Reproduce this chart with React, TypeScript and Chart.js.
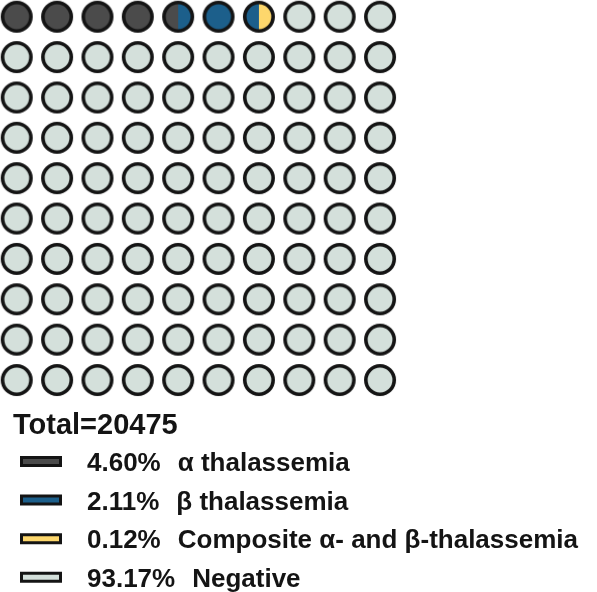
import React, { useEffect, useRef } from "react";
import { Chart, registerables } from "chart.js";

Chart.register(...registerables);

// ---- Data ----
const totalLabel = "Total=20475";
const categories = ["α thalassemia", "β thalassemia", "Composite α- and β-thalassemia", "Negative"];
const percentages = [4.6, 2.11, 0.12, 93.17];
const colors = ["#4b4b4b", "#1c5f8b", "#fdd76c", "#d4e0db"];
const gridCols = 10;
const gridRows = 10;

const borderColor = "#141414";
const textColor = "#141414";
const fontFamily = '"Liberation Sans", Arial, Helvetica, sans-serif';

// cumulative boundaries (in cells) rounded to half cells
function halfBoundaries(): number[] {
  const out: number[] = [];
  let cum = 0;
  for (const p of percentages) {
    cum += p;
    out.push(Math.round((cum / 100) * gridCols * gridRows * 2) / 2);
  }
  return out;
}

function categoryAt(pos: number, bounds: number[]): number {
  for (let i = 0; i < bounds.length; i++) if (pos < bounds[i]) return i;
  return bounds.length - 1;
}

const imgCache: Record<string, HTMLCanvasElement> = {};
function cellImage(left: number, right: number): HTMLCanvasElement {
  const key = left + "-" + right;
  if (imgCache[key]) return imgCache[key];
  const size = 34;
  const c = document.createElement("canvas");
  c.width = size;
  c.height = size;
  const ctx = c.getContext("2d")!;
  const cx = size / 2;
  const cy = size / 2;
  const r = 14.2;
  // left half
  ctx.beginPath();
  ctx.moveTo(cx, cy);
  ctx.arc(cx, cy, r, Math.PI / 2, (3 * Math.PI) / 2);
  ctx.closePath();
  ctx.fillStyle = colors[left];
  ctx.fill();
  // right half
  ctx.beginPath();
  ctx.moveTo(cx, cy);
  ctx.arc(cx, cy, r, -Math.PI / 2, Math.PI / 2);
  ctx.closePath();
  ctx.fillStyle = colors[right];
  ctx.fill();
  // border
  ctx.beginPath();
  ctx.arc(cx, cy, r, 0, Math.PI * 2);
  ctx.lineWidth = 3.6;
  ctx.strokeStyle = borderColor;
  ctx.stroke();
  imgCache[key] = c;
  return c;
}

const legendPlugin = {
  id: "waffleLegend",
  afterDraw(chart: any) {
    const ctx = chart.ctx as CanvasRenderingContext2D;
    ctx.save();
    ctx.fillStyle = textColor;
    ctx.textBaseline = "alphabetic";
    ctx.textAlign = "left";
    ctx.font = `bold 29px ${fontFamily}`;
    ctx.fillText(totalLabel, 13, 434);
    categories.forEach((label, i) => {
      const base = 471 + i * 38.6;
      ctx.beginPath();
      ctx.rect(21.5, base - 13.5, 39, 8);
      ctx.fillStyle = colors[i];
      ctx.fill();
      ctx.lineWidth = 3;
      ctx.strokeStyle = borderColor;
      ctx.stroke();
      ctx.fillStyle = textColor;
      ctx.font = `bold 26px ${fontFamily}`;
      const pct = percentages[i].toFixed(2) + "%";
      ctx.fillText(pct, 87, base);
      const w = ctx.measureText(pct).width;
      ctx.fillText(label, 87 + w + 17, base);
    });
    ctx.restore();
  },
};

export default function App() {
  const ref = useRef<HTMLCanvasElement | null>(null);
  useEffect(() => {
    document.body.style.margin = "0";
    const bounds = halfBoundaries();
    const points: { x: number; y: number }[] = [];
    const styles: HTMLCanvasElement[] = [];
    for (let r = 0; r < gridRows; r++) {
      for (let c = 0; c < gridCols; c++) {
        const idx = r * gridCols + c;
        const left = categoryAt(idx + 0.25, bounds);
        const right = categoryAt(idx + 0.75, bounds);
        points.push({ x: c, y: r });
        styles.push(cellImage(left, right));
      }
    }
    const unit = 40.37;
    const off = 16.7 / unit;
    const chart = new Chart(ref.current!, {
      type: "scatter",
      data: {
        datasets: [
          {
            data: points,
            pointStyle: styles as any,
            pointRadius: 17,
            pointHoverRadius: 17,
          },
        ],
      },
      plugins: [legendPlugin],
      options: {
        animation: false,
        responsive: false,
        events: [],
        layout: { padding: 0, autoPadding: false },
        plugins: { legend: { display: false }, tooltip: { enabled: false } },
        scales: {
          x: { type: "linear", display: false, min: -off, max: -off + 597 / unit },
          y: { type: "linear", display: false, reverse: true, min: -off, max: -off + 592 / unit },
        },
      },
    });
    return () => chart.destroy();
  }, []);
  return (
    <div style={{ position: "absolute", left: 0, top: 0, width: 597, height: 592 }}>
      <canvas ref={ref} width={597} height={592} style={{ display: "block" }} />
    </div>
  );
}
